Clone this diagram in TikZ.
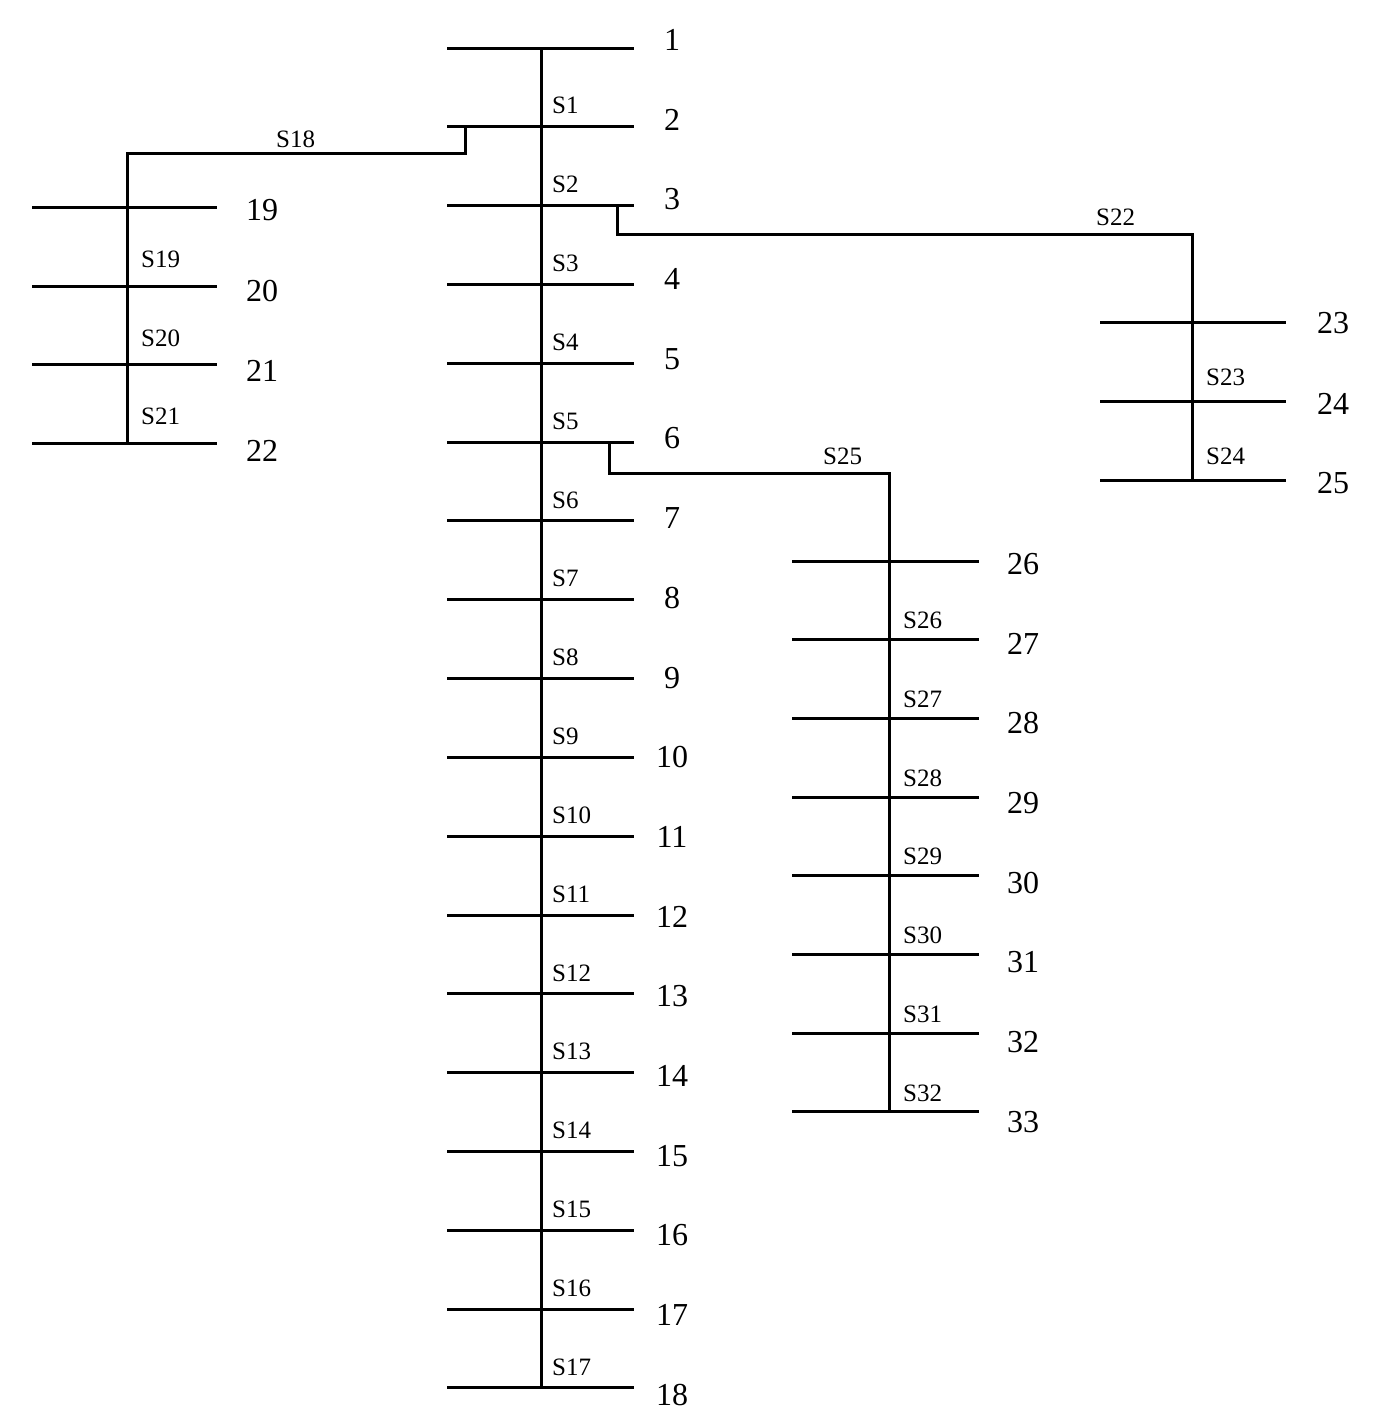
\documentclass[tikz,border=0pt]{standalone}
\usepackage{fontspec}
\setmainfont{Liberation Serif}
\begin{document}
\begin{tikzpicture}[x=1pt,y=-1pt,
  bus/.style={line width=3pt},
  wire/.style={line width=3pt},
  num/.style={font=\fontsize{32}{32}\selectfont, anchor=center},
  sec/.style={font=\fontsize{25}{25}\selectfont, anchor=west, inner sep=0pt}]
\useasboundingbox (0,0) rectangle (1374,1428);
% main feeder buses 1..18
\foreach \i in {1,...,18}{
  \pgfmathsetmacro{\yy}{48+(\i-1)*78.82}
  \coordinate (m\i) at (541,\yy);
  \draw[bus] (447,\yy) -- (634,\yy);
  \pgfmathsetmacro{\ny}{\yy-8+15*(\i-1)/17}
  \node[num] (n\i) at (672,\ny) {\i};
}
\foreach \i in {2,...,18}{
  \pgfmathsetmacro{\yy}{48+(\i-1)*78.82-21}
  \pgfmathtruncatemacro{\k}{\i-1}
  \node[sec] (s\k) at (552,\yy) {S\k};
}
\draw[wire] (m1) -- (m18);
% left branch 19..22
\foreach \i/\yy/\ny in {19/207/210,20/286/291,21/364/371,22/443/451}{
  \coordinate (m\i) at (127,\yy);
  \draw[bus] (32,\yy) -- (217,\yy);
  \node[num] (n\i) at (262,\ny) {\i};
}
\foreach \k/\yy in {19/259,20/338,21/416}{\node[sec] (s\k) at (141,\yy) {S\k};}
\coordinate (a1) at (465,127);
\coordinate (a2) at (465,153);
\coordinate (a3) at (127,153);
\draw[wire] (a1) -- (a2) -- (a3) -- (m22);
\node[sec] (s18) at (276,139) {S18};
% right branch 23..25
\foreach \i/\yy/\ny in {23/322/323,24/401/404,25/480/483}{
  \coordinate (m\i) at (1192,\yy);
  \draw[bus] (1100,\yy) -- (1286,\yy);
  \node[num] (n\i) at (1333,\ny) {\i};
}
\foreach \k/\yy in {23/377,24/456}{\node[sec] (s\k) at (1206,\yy) {S\k};}
\coordinate (b1) at (617,207);
\coordinate (b2) at (617,234);
\coordinate (b3) at (1192,234);
\draw[wire] (b1) -- (b2) -- (b3) -- (m25);
\node[sec] (s22) at (1096,217) {S22};
% branch 26..33
\foreach \i in {26,...,33}{
  \pgfmathsetmacro{\yy}{561+(\i-26)*78.7}
  \coordinate (m\i) at (889,\yy);
  \draw[bus] (792,\yy) -- (979,\yy);
  \pgfmathsetmacro{\ny}{\yy+3+7*(\i-26)/7}
  \node[num] (n\i) at (1023,\ny) {\i};
}
\foreach \i in {27,...,33}{
  \pgfmathsetmacro{\yy}{561+(\i-26)*78.7-19}
  \pgfmathtruncatemacro{\k}{\i-1}
  \node[sec] (s\k) at (903,\yy) {S\k};
}
\coordinate (c1) at (609,443);
\coordinate (c2) at (609,473);
\coordinate (c3) at (889,473);
\draw[wire] (c1) -- (c2) -- (c3) -- (m33);
\node[sec] (s25) at (823,456) {S25};
\end{tikzpicture}
\end{document}
